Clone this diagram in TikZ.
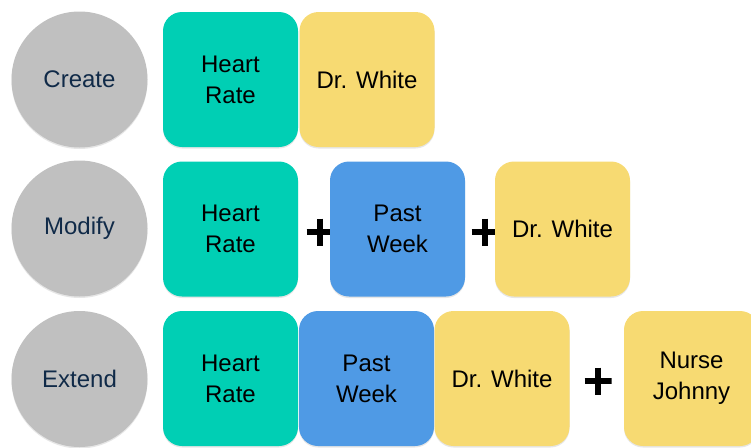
\documentclass[tikz,border=0pt]{standalone}
\usepackage{fontspec}
\setmainfont{Liberation Sans}
\usetikzlibrary{shadows}
\definecolor{hrteal}{RGB}{0,207,180}
\definecolor{pwblue}{RGB}{79,154,229}
\definecolor{drwhite}{RGB}{247,218,114}
\definecolor{stagegray}{RGB}{192,192,192}
\definecolor{stagetext}{RGB}{16,42,72}

\begin{document}
\begin{tikzpicture}[
	x=1pt, y=-1pt,
	stage/.style={circle, fill=stagegray, minimum size=136pt, inner sep=0pt, text=stagetext,
		font=\fontsize{24}{31}\selectfont, drop shadow={shadow xshift=0pt, shadow yshift=-1.5pt, opacity=.2}},
	card/.style={rectangle, rounded corners=19pt, minimum width=135pt, minimum height=135pt, inner sep=0pt,
		align=center, font=\fontsize{24}{31}\selectfont, drop shadow={shadow xshift=0pt, shadow yshift=-1.5pt, opacity=.2}},
	rate/.style={card, fill=hrteal},
	week/.style={card, fill=pwblue},
	person/.style={card, fill=drwhite},
	plussign/.style={minimum size=27pt, inner sep=0pt,
		path picture={
			\draw[line width=6pt] (path picture bounding box.west) -- (path picture bounding box.east);
			\draw[line width=6pt] (path picture bounding box.north) -- (path picture bounding box.south);
		}}
	]
	\useasboundingbox (0,0) rectangle (751,447);
	
	% create
	\node[stage] (create) at (79.5,79.5) {Create};
	\node[rate] (rate1) at (230.5,79.5) {Heart\\Rate};
	\node[person] (white1) at (367,79.5) {Dr. White};
	
	% modify
	\node[stage] (modify) at (79.5,228.5) {Modify};
	\node[rate] (rate2) at (230.5,229) {Heart\\Rate};
	\node[plussign] (plus1) at (320,232) {};
	\node[week] (week2) at (397.5,229) {Past\\Week};
	\node[plussign] (plus2) at (485,232) {};
	\node[person] (white2) at (562.5,229) {Dr. White};
	
	% extend
	\node[stage] (extend) at (79.5,379) {Extend};
	\node[rate] (rate3) at (230.5,378.5) {Heart\\Rate};
	\node[week] (week3) at (366.5,378.5) {Past\\Week};
	\node[person] (white3) at (502,378.5) {Dr. White};
	\node[plussign] (plus3) at (598,381) {};
	\node[person] (nurse) at (691.5,378.5) {Nurse\\Johnny};
\end{tikzpicture}
\end{document}
